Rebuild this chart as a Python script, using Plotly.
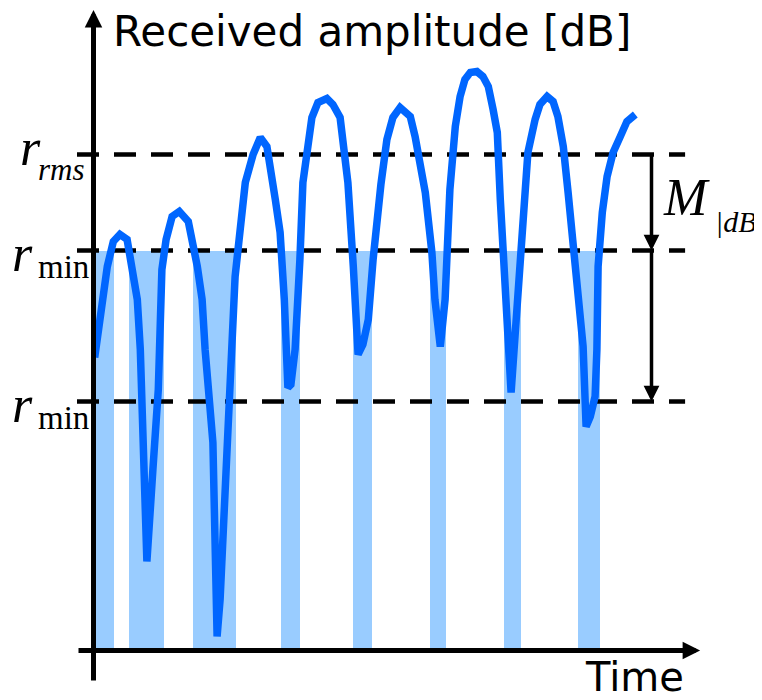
import plotly.graph_objects as go

# ---- data (time in arbitrary units, amplitude in dB) ----
time = [0.2, 1.4, 2.3, 3.3, 4.4, 5.6, 6.4, 7.3, 7.8, 8.9, 9.9, 10.8, 11.4, 12.1, 13.1, 14.3,
        15.8, 16.6, 17.3, 18.1, 18.6, 19.9, 20.6, 21.1, 21.8, 22.8, 23.6, 25.3, 26.6, 27.8,
        28.9, 30.3, 31.1, 31.8, 32.4, 32.9, 33.6, 34.4, 34.9, 36.4, 37.4, 38.9, 39.9, 41.1,
        42.4, 43.3, 44.1, 44.9, 45.8, 46.6, 47.3, 47.9, 48.9, 49.9, 51.1, 52.8, 53.6, 54.4,
        55.3, 56.4, 56.9, 57.8, 58.6, 59.4, 60.3, 61.1, 61.9, 62.8, 63.9, 64.9, 65.8, 66.6,
        67.3, 67.8, 68.6, 69.3, 69.6, 70.1, 71.1, 71.6, 72.4, 73.6, 74.4, 75.6, 76.6, 77.4,
        78.3, 79.1, 80.3, 81.1, 81.6, 82.1, 82.8, 83.6, 83.9, 84.1, 84.8, 85.6, 86.6, 87.8,
        88.9, 90.3]
amplitude = [29.3, 34.4, 38.4, 40.9, 41.6, 41.1, 38.6, 35.1, 30.1, 8.9, 18.1, 26.1, 38.1, 41.1,
             43.4, 43.9, 42.9, 40.6, 38.4, 35.1, 30.1, 20.8, 1.4, 5.1, 15.1, 30.1, 37.4, 46.8,
             49.6, 51.3, 50.4, 45.1, 41.8, 35.1, 26.3, 26.6, 30.1, 39.1, 46.8, 53.3, 54.8, 55.2,
             54.6, 53.3, 46.8, 38.4, 29.6, 30.6, 33.1, 39.1, 44.1, 46.6, 51.1, 53.3, 54.3, 53.4,
             51.4, 48.4, 45.8, 39.8, 35.1, 30.4, 35.1, 46.1, 52.4, 55.4, 57.1, 57.8, 57.9, 57.4,
             56.4, 54.1, 51.8, 45.1, 36.8, 30.4, 25.8, 30.1, 38.4, 45.1, 49.8, 53.1, 54.6, 55.4,
             54.9, 53.4, 50.4, 45.8, 39.1, 33.4, 30.4, 22.4, 23.4, 25.4, 30.1, 38.4, 43.8, 47.4,
             49.8, 51.4, 52.9, 53.6]

# shaded (faded) intervals: start / end times
fade_start = [0.4, 5.9, 16.6, 31.25, 43.25, 56.1, 68.4, 80.75]
fade_end = [3.4, 11.75, 23.75, 34.4, 46.4, 58.75, 71.25, 84.4]

# reference levels (dB)
r_rms = 49.6
r_min = 40.0
r_min_low = 24.9

# axis extents
x_axis_start, x_axis_end = -2.75, 101.1
y_axis_start, y_axis_end = -3.15, 64.05
level_start, level_end = -2.75, 98.6
margin_arrow_t = 93.0

# page body has an 8px margin -> ranges compensate for it
X_RANGE = [-14.25, 112.75]
Y_RANGE = [-5.75, 64.25]

BLUE = "#0066ff"
LIGHT = "#99ccff"
SERIF = "Liberation Serif"
SANS = "DejaVu Sans"

fig = go.Figure()

# shaded bars
centers = [(a + b) / 2 for a, b in zip(fade_start, fade_end)]
widths = [b - a for a, b in zip(fade_start, fade_end)]
fig.add_trace(go.Bar(x=centers, y=[r_min] * len(centers), width=widths,
                     marker=dict(color=LIGHT, line=dict(width=0)),
                     hoverinfo="skip", showlegend=False))

# dashed reference lines
for lvl in [r_rms, r_min, r_min_low]:
    fig.add_trace(go.Scatter(x=[level_start, level_end], y=[lvl, lvl], mode="lines",
                             line=dict(color="black", width=4.5, dash="22px,15px"),
                             hoverinfo="skip", showlegend=False))

# received amplitude curve
fig.add_trace(go.Scatter(x=time, y=amplitude, mode="lines",
                         line=dict(color=BLUE, width=7.5),
                         hoverinfo="skip", showlegend=False))

annotations = []

def arrow(x0, y0, x1, y1, width, size):
    annotations.append(dict(x=x1, y=y1, ax=x0, ay=y0, xref="x", yref="y",
                            axref="x", ayref="y", text="", showarrow=True,
                            arrowhead=2, arrowwidth=width, arrowsize=size,
                            arrowcolor="black", standoff=0, startstandoff=0))

# axes
arrow(0, y_axis_start, 0, y_axis_end, 5, 0.7)
arrow(x_axis_start, 0, x_axis_end, 0, 5, 0.7)
# margin arrows
arrow(margin_arrow_t, r_rms, margin_arrow_t, r_min, 3.5, 0.9)
arrow(margin_arrow_t, r_min, margin_arrow_t, r_min_low, 3.5, 0.9)

def label(x, y, text, size, family, anchor="left"):
    annotations.append(dict(x=x, y=y, xref="x", yref="y", text=text, showarrow=False,
                            xanchor=anchor, yanchor="middle",
                            font=dict(size=size, family=family, color="black")))

label(2.92, 61.94, "Received amplitude [dB]", 42, SANS)
label(81.58, -2.6, "Time", 40, SANS)

label(-12.6, 50.3, "<i>r</i>", 52, SERIF)
label(-9.6, 48.1, "<i>rms</i>", 31, SERIF)

for lvl in [r_min, r_min_low]:
    label(-14.0, lvl - 0.3, "<i>r</i>", 52, SERIF)
    label(-9.6, lvl - 1.65, "min", 33, SERIF)

label(94.5, 45.3, "<i>M</i>", 52, SERIF)
label(103.2, 42.9, "<i>|dB</i>", 30, SERIF)

fig.update_layout(
    width=762, height=700,
    margin=dict(l=0, r=0, t=0, b=0),
    paper_bgcolor="white", plot_bgcolor="white",
    xaxis=dict(range=X_RANGE, visible=False, fixedrange=True),
    yaxis=dict(range=Y_RANGE, visible=False, fixedrange=True),
    annotations=annotations,
    showlegend=False,
    bargap=0,
)

fig.write_html("out.html")
